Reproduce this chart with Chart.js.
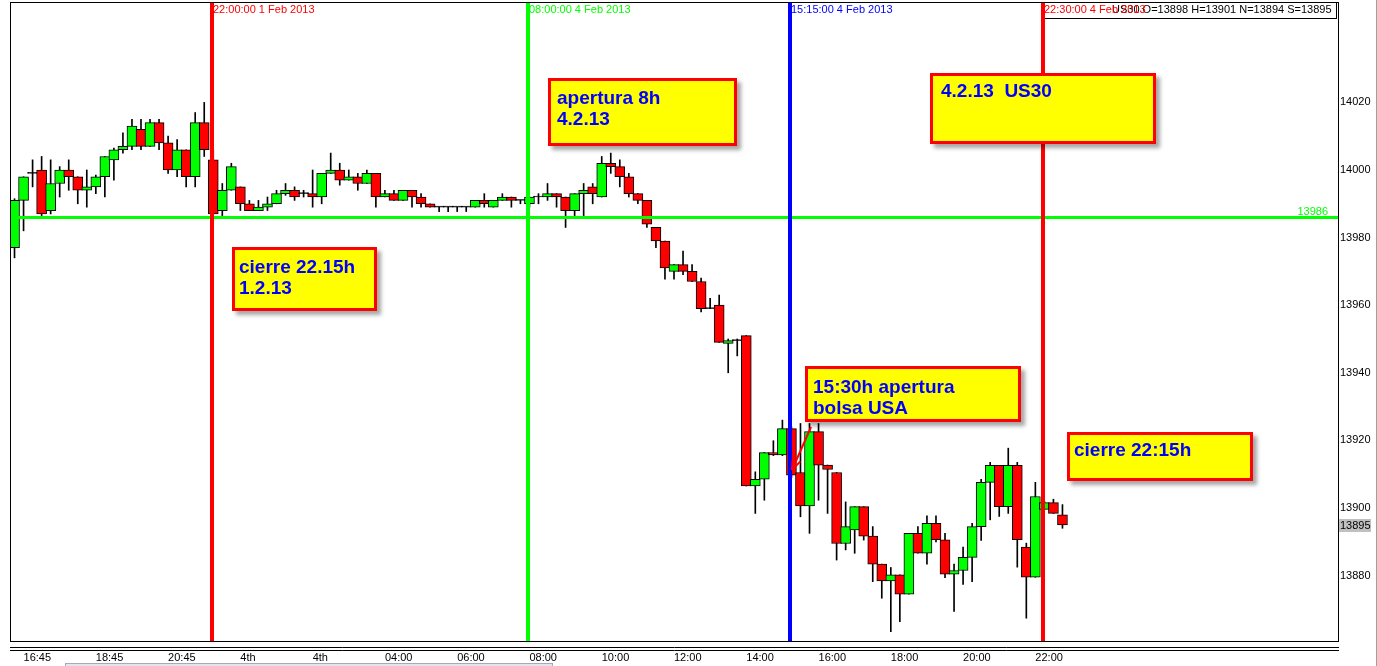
<!DOCTYPE html>
<html lang="es">
<head>
<meta charset="UTF-8">
<title>US30 M15</title>
<script src="https://cdn.jsdelivr.net/npm/chart.js"></script>
<style>
    body { margin: 0; background: #fff; }
    .wrap { position: relative; width: 1377px; height: 666px; overflow: hidden; }
    canvas { position: absolute; left: 0; top: 0; }
    .note {
        position: absolute;
        box-sizing: border-box;
        background: #ffff00;
        border: 3px solid #ff0000;
        box-shadow: 4px 4px 4px rgba(0, 0, 0, 0.35);
        color: #0000ff;
        font: bold 19px 'Liberation Sans', Arial, sans-serif;
        line-height: 21px;
        white-space: pre;
    }
    .scroll {
        position: absolute; left: 65px; top: 663px; width: 486px; height: 6px;
        background: #e4e4ec; border: 1px solid #a8a8bc;
    }
</style>
</head>
<body>
<div class="wrap">
    <canvas id="chart" width="1377" height="666"></canvas>
    <div class="note" style="left:548px;top:78px;width:189px;height:68px;padding:6px 0 0 6px">apertura 8h
4.2.13</div>
    <div class="note" style="left:930px;top:73px;width:226px;height:71px;padding:4px 0 0 8px">4.2.13  US30</div>
    <div class="note" style="left:232px;top:247px;width:145px;height:64px;padding:6px 0 0 4px">cierre 22.15h
1.2.13</div>
    <div class="note" style="left:805px;top:366px;width:216px;height:56px;padding:7px 0 0 5px">15:30h apertura
bolsa USA</div>
    <div class="note" style="left:1067px;top:432px;width:186px;height:49px;padding:4px 0 0 4px">cierre 22:15h</div>
    <div class="scroll"></div>
</div>

<script>
    // US30, 15 min candles (1 Feb 16:30 -> 4 Feb 22:45)
    const opens = [
        13977, 13991, 13999, 14000, 13988, 13996, 14000, 13998, 13994, 13995,
        13998, 14003, 14006, 14007, 14012, 14007, 14014, 14008, 14000, 14006,
        13998, 14014, 14003, 13988, 13994, 13995, 13990, 13988, 13989, 13990,
        13993, 13994, 13993, 13993, 13992, 13999, 14000, 13997, 13998, 13996,
        13999, 13992, 13993, 13991, 13994, 13992, 13990, 13989, 13989, 13989,
        13989, 13989, 13991, 13989, 13991, 13992, 13991, 13990, 13992, 13992,
        13993, 13992, 13988, 13993, 13995, 13992, 14002, 14001, 13998, 13993,
        13991, 13983, 13979, 13970, 13972, 13970, 13967, 13959, 13960, 13948.7,
        13949.5, 13951, 13906.5, 13908.5, 13916.4, 13915.7, 13923.5, 13910.5, 13900.6, 13922.6,
        13912.7, 13910.5, 13889.5, 13893.5, 13900.4, 13891.7, 13883.4, 13878.4, 13880.2, 13874.5,
        13892.5, 13886.6, 13895.5, 13890.6, 13880.4, 13881.5, 13885.4, 13894.5, 13907.6, 13912.6,
        13900.4, 13912.6, 13888.4, 13879.5, 13899.6, 13901.6, 13898
    ];
    const highs = [
        13991.5, 13998, 14003, 14004, 14003, 14001, 14003, 13998, 14000, 13998.5,
        14004, 14006.5, 14011, 14015, 14015, 14015, 14015, 14010, 14009, 14006,
        14017, 14020, 14006, 13996, 14002, 13995, 13991, 13991, 13992, 13994,
        13996, 13995, 13994, 14000, 13999, 14005, 14002, 14000, 13999, 14000,
        13999, 13994, 13994, 13994, 13994, 13993, 13990, 13989, 13989, 13989,
        13989, 13991, 13993, 13991, 13993, 13992, 13991, 13992, 13993, 13996,
        13993, 13992, 13993, 13996, 13996, 14004, 14005, 14003, 13999, 13993,
        13991, 13983, 13979, 13972, 13976, 13972, 13968, 13962, 13963, 13950,
        13950, 13951, 13910.7, 13916.4, 13919.9, 13926, 13924, 13925, 13925, 13925,
        13912.7, 13910.5, 13901.8, 13900.4, 13900.4, 13894.5, 13883.4, 13882.4, 13880.2, 13892.5,
        13894.5, 13897.7, 13897.7, 13892.5, 13883.4, 13888.4, 13895.5, 13908.5, 13913.5, 13912.6,
        13917.7, 13913.5, 13889.6, 13907.6, 13902, 13902.6, 13901
    ];
    const lows = [
        13974, 13982, 13995, 13986.5, 13987, 13992, 13994, 13990, 13989, 13993,
        13992, 13997, 14005, 14006, 14006, 14007, 14006, 13999, 13998, 13995,
        13995, 14004, 13985, 13986.5, 13994, 13988, 13988, 13988, 13988, 13990,
        13992.5, 13991, 13992, 13989, 13990, 13999, 13995.5, 13997, 13994, 13996,
        13989, 13992, 13991, 13991, 13989, 13989, 13989, 13987.7, 13987.7, 13987.7,
        13987.7, 13989, 13989, 13989, 13991, 13989, 13990, 13989, 13990, 13991,
        13989, 13983, 13986, 13986.5, 13990, 13992, 13999, 13995, 13992, 13990,
        13983, 13977, 13967.7, 13967.7, 13969, 13967, 13958, 13959, 13949, 13940,
        13945, 13906.5, 13898.4, 13902.3, 13915.5, 13915.5, 13909, 13897.4, 13892.5, 13902.3,
        13898.4, 13884.6, 13887.6, 13886.6, 13890.5, 13878.2, 13873.3, 13863.4, 13866.4, 13874.5,
        13886.6, 13883.4, 13890, 13879.4, 13869.4, 13877.4, 13878.2, 13890.4, 13896.5, 13897.5,
        13898.4, 13882.5, 13867.4, 13879.5, 13899.5, 13898.4, 13894
    ];
    const closes = [
        13991, 13998, 13999, 13987, 13996, 14000, 13998, 13994, 13995, 13998,
        14004, 14006, 14007, 14013, 14007, 14014, 14008, 14000, 14006, 13998,
        14014, 14006, 13987, 13994, 14001, 13990, 13988, 13989, 13990, 13993,
        13994, 13992, 13993, 13992, 13999, 14000, 13997, 13998, 13996, 13999,
        13992, 13993, 13991, 13994, 13992, 13990, 13989, 13989, 13989, 13989,
        13989, 13991, 13990, 13991, 13992, 13991, 13991, 13992, 13992, 13993,
        13992, 13988, 13993, 13994, 13993, 14002, 14001, 13998, 13993, 13991,
        13984, 13979, 13971, 13972, 13970, 13967, 13959, 13959, 13949, 13949.5,
        13949.5, 13906.5, 13908.5, 13916.4, 13915.7, 13923.5, 13909.7, 13900.6, 13922.6, 13912.7,
        13911.4, 13889.5, 13894.5, 13900.4, 13891.7, 13883.4, 13878.4, 13880.2, 13874.5, 13892.5,
        13886.6, 13895.5, 13890.6, 13880.4, 13881.5, 13885.4, 13894.5, 13907.6, 13912.6, 13900.4,
        13912.6, 13890.6, 13879.5, 13903.4, 13901.6, 13898.4, 13895
    ];

    // time axis: 147 slots of 15 min, labels every 8 slots
    const slotCount = 147;
    const tickSlots = [1, 9, 17, 25, 33, 41, 49, 57, 65, 73, 81, 89, 97, 105, 113];
    const tickLabels = ['16:45', '18:45', '20:45', '4th', '4th', '04:00', '06:00', '08:00',
                        '10:00', '12:00', '14:00', '16:00', '18:00', '20:00', '22:00'];
    const priceTicks = [13880, 13900, 13920, 13940, 13960, 13980, 14000, 14020];

    // marker lines
    const levelPrice = 13986;
    const lastPrice = 13895;
    const vLineSlots = [22, 57, 86, 114];
    const vLineTexts = ['22:00:00 1 Feb 2013', '08:00:00 4 Feb 2013', '15:15:00 4 Feb 2013', '22:30:00 4 Feb 2013'];
    const vLineColors = ['#ff0000', '#00ff00', '#0000ff', '#ff0000'];
    const infoText = 'US30 O=13898 H=13901 N=13894 S=13895';

    const FONT = "'Liberation Sans', Arial, sans-serif";
    const slots = Array.from({ length: slotCount }, (_, i) => i);
    const bodies = opens.map((o, i) => [o, closes[i]]);
    const wicks = lows.map((l, i) => [l, highs[i]]);
    const bodyColors = opens.map((o, i) => closes[i] > o ? '#00ff00' : closes[i] < o ? '#ff0000' : '#000000');

    const overlay = {
        id: 'overlay',
        beforeDraw(chart) {
            const ctx = chart.ctx;
            ctx.save();
            ctx.fillStyle = '#fff';
            ctx.fillRect(0, 0, chart.width, chart.height);
            ctx.restore();
        },
        afterDatasetsDraw(chart) {
            const { ctx, chartArea: a, scales: { x, y } } = chart;
            ctx.save();

            // horizontal level
            const ly = y.getPixelForValue(levelPrice);
            ctx.fillStyle = '#00ff00';
            ctx.fillRect(a.left, Math.round(ly) - 1, a.right - a.left, 3);
            ctx.font = '11px ' + FONT;
            ctx.textAlign = 'right';
            ctx.textBaseline = 'alphabetic';
            ctx.fillText(String(levelPrice), a.right - 10, ly - 2);

            // info box
            ctx.fillStyle = '#fff';
            ctx.fillRect(1043, 2, 294, 16);
            ctx.strokeStyle = '#000';
            ctx.lineWidth = 1;
            ctx.strokeRect(1042.5, 2.5, 294, 16);
            ctx.fillStyle = '#000';
            ctx.textAlign = 'left';
            ctx.textBaseline = 'middle';
            ctx.fillText(infoText, 1112, 10);

            // vertical time lines
            vLineSlots.forEach((s, i) => {
                const px = Math.round(x.getPixelForValue(s)) - 1;
                ctx.fillStyle = vLineColors[i];
                ctx.fillRect(px - 2, a.top, 4, a.bottom - a.top);
                ctx.fillText(vLineTexts[i], px + 1, 10);
            });

            // arrow to the 15:30 candle
            ctx.strokeStyle = '#ff0000';
            ctx.lineWidth = 2;
            const x0 = 811, y0 = 427, x1 = 792, y1 = 470;
            ctx.beginPath();
            ctx.moveTo(x0, y0);
            ctx.lineTo(x1, y1);
            ctx.stroke();
            const ang = Math.atan2(y1 - y0, x1 - x0);
            ctx.beginPath();
            ctx.moveTo(x1, y1);
            ctx.lineTo(x1 - 12 * Math.cos(ang - 0.35), y1 - 12 * Math.sin(ang - 0.35));
            ctx.moveTo(x1, y1);
            ctx.lineTo(x1 - 12 * Math.cos(ang + 0.35), y1 - 12 * Math.sin(ang + 0.35));
            ctx.stroke();

            // last price tag
            const py = y.getPixelForValue(lastPrice);
            ctx.fillStyle = '#c0c0c0';
            ctx.fillRect(a.right + 1, Math.round(py) - 6, 32, 13);
            ctx.fillStyle = '#000';
            ctx.font = '11px ' + FONT;
            ctx.textBaseline = 'middle';
            ctx.fillText(String(lastPrice), a.right + 2, py + 1);

            // frame and double line under the plot
            ctx.strokeStyle = '#000';
            ctx.lineWidth = 1;
            ctx.strokeRect(a.left + 0.5, a.top + 0.5, a.right - a.left, a.bottom - a.top);
            ctx.beginPath();
            ctx.moveTo(a.left, 647.5); ctx.lineTo(a.right + 1, 647.5);
            ctx.moveTo(a.left, 650.5); ctx.lineTo(a.right + 1, 650.5);
            ctx.stroke();
            ctx.fillStyle = '#a0a0a0';
            ctx.fillRect(chart.width - 1, 0, 1, chart.height);
            ctx.restore();
        }
    };

    new Chart(document.getElementById('chart'), {
        type: 'bar',
        data: {
            labels: slots,
            datasets: [
                {
                    label: 'wick',
                    data: wicks,
                    backgroundColor: '#000',
                    barThickness: 1,
                    grouped: false,
                    order: 2
                },
                {
                    label: 'body',
                    data: bodies,
                    backgroundColor: bodyColors,
                    borderColor: '#000',
                    borderWidth: 1,
                    borderSkipped: false,
                    barThickness: 10,
                    minBarLength: 1,
                    grouped: false,
                    order: 1
                }
            ]
        },
        options: {
            responsive: false,
            devicePixelRatio: 1,
            animation: false,
            events: [],
            layout: { padding: { left: 10, top: 2, right: 0, bottom: 0 } },
            plugins: { legend: { display: false }, tooltip: { enabled: false } },
            scales: {
                x: {
                    type: 'category',
                    offset: true,
                    grid: { display: false, drawTicks: false },
                    border: { display: false },
                    afterFit(s) {
                        s.height = 25;
                        s.paddingLeft = 0;
                        s.paddingRight = 0;
                    },
                    ticks: {
                        autoSkip: false,
                        maxRotation: 0,
                        minRotation: 0,
                        align: 'start',
                        padding: 10,
                        color: '#000',
                        font: { family: FONT, size: 11 },
                        callback: (v, i) => {
                            const k = tickSlots.indexOf(i);
                            return k < 0 ? '' : tickLabels[k];
                        }
                    }
                },
                y: {
                    type: 'linear',
                    position: 'right',
                    min: 13860.65,
                    max: 14049.7,
                    grid: { display: false, drawTicks: false },
                    border: { display: false },
                    afterFit(s) {
                        s.width = 39;
                        s.paddingTop = 0;
                        s.paddingBottom = 0;
                    },
                    afterBuildTicks(s) { s.ticks = priceTicks.map(v => ({ value: v })); },
                    ticks: {
                        padding: 2,
                        color: '#000',
                        font: { family: FONT, size: 11 },
                        callback: v => String(v)
                    }
                }
            }
        },
        plugins: [overlay]
    });
</script>
</body>
</html>
